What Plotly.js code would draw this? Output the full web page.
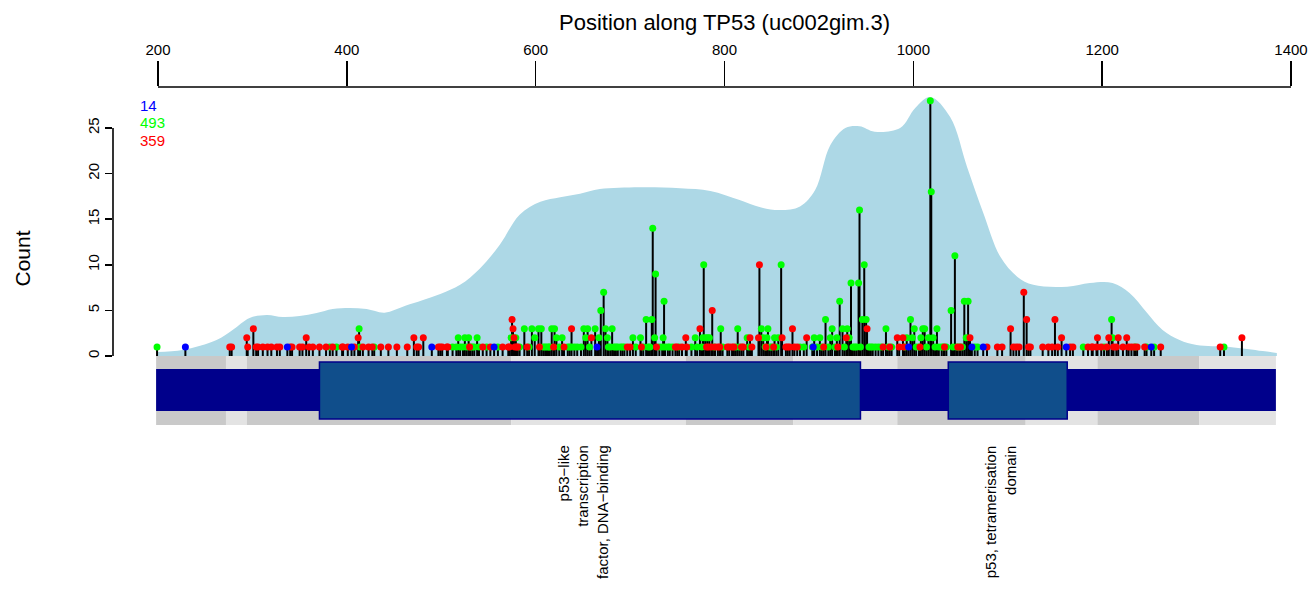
<!DOCTYPE html>
<html><head><meta charset="utf-8">
<script src="https://cdn.plot.ly/plotly-3.0.1.min.js"></script>
<style>html,body{margin:0;padding:0;background:#fff}#chart{width:1314px;height:596px}</style>
</head><body><div id="chart"></div>
<script>
// ---------- data ----------
const greenPos = [199,382,389,413,414,429,512,516,518,520,523,525,527,529,531,533,535,538,540,548,560,574,579,583,588,593,596,599,603,606,608,610,612,614,615,617,620,622,625,628,634,636,638,641,644,648,651,653,655,657,663,667,669,672,674,676,677,679,681,683,685,687,690,692,694,703,706,711,714,717,719,721,723,724,726,727,731,734,735,736,737,740,742,745,752,765,769,771,776,777,778,780,782,784,789,796,798,812,814,816,824,826,839,841,843,845,846,848,850,853,855,857,860,880,884,893,895,898,901,903,907,910,912,914,917,919,922,925,927,930,932,934,936,938,940,942,943,944,946,948,950,953,955,957,960,963,966,971,973,977,991,993,997,999,1001,1003,1006,1008,1010,1012,1014,1016,1018,1019,1021,1023,1025,1027,1030,1032,1035,1040,1042,1044,1046,1049,1052,1054,1056,1058,1065,1068,1180,1202,1210,1211,1235,1247,1255,1329];
const greenCnt = [1,1,1,3,1,1,1,1,2,1,1,2,1,2,1,1,1,2,1,1,1,2,2,1,3,1,3,2,3,3,1,1,1,1,1,3,3,2,1,2,1,1,1,1,1,1,3,2,3,1,3,2,5,7,3,2,1,1,3,1,1,1,1,1,1,2,1,2,1,4,1,1,4,14,2,9,1,1,2,6,1,1,1,1,1,1,2,1,1,2,10,2,2,2,1,3,1,1,3,1,2,1,3,2,1,2,3,1,1,2,1,2,10,1,1,1,2,1,2,1,4,1,2,3,1,2,6,3,1,3,2,8,1,1,1,8,16,1,4,10,4,1,1,1,1,1,1,3,1,1,1,2,4,2,3,1,1,2,3,3,1,2,28,18,2,1,3,1,1,1,1,5,1,11,1,1,1,6,2,6,1,1,1,1,4,2,1,1,1,1];
const redPos = [276,278,294,295,301,304,306,311,316,320,326,329,340,342,350,353,357,360,364,371,378,385,395,396,401,408,412,417,423,427,436,444,453,464,471,474,476,481,497,499,501,506,507,530,544,552,565,571,572,575,576,577,578,580,581,591,604,619,630,638,659,697,700,712,728,748,750,755,759,760,774,781,783,786,787,790,793,795,803,805,808,810,818,820,827,829,836,837,844,852,861,865,867,869,872,874,877,887,905,920,929,951,968,975,983,985,989,990,1007,1033,1047,1050,1060,1078,1089,1094,1103,1106,1109,1112,1117,1120,1122,1124,1137,1143,1147,1150,1153,1157,1166,1169,1185,1189,1190,1194,1195,1199,1205,1207,1212,1215,1217,1222,1226,1228,1231,1234,1237,1245,1262,1325,1348];
const redCnt = [1,1,2,1,3,1,1,1,1,1,1,1,1,1,1,1,2,1,1,1,1,1,1,1,1,1,2,1,1,1,1,1,1,1,2,1,1,2,1,1,1,1,1,1,1,1,1,1,1,4,3,2,1,1,1,1,1,1,1,3,2,1,1,1,1,1,1,1,2,1,3,1,1,1,5,1,1,1,1,1,1,1,1,1,2,1,2,10,1,1,2,1,1,1,3,1,1,2,1,1,2,3,1,1,2,1,2,1,1,1,1,1,2,1,1,1,3,1,1,1,7,4,1,1,1,1,1,4,1,2,1,1,1,1,1,1,2,1,1,2,1,1,2,1,2,1,1,1,1,1,1,1,2];
const bluePos = [229,337,405,490,556,665,894,995,1062,1074,1162,1252];
const blueCnt = [1,1,1,1,1,1,1,1,1,1,1,1];
const legendTotals = [14, 493, 359];

// density outline (position, height in count units)
const densX = [199,226,262,279,297,315,332,350,368,385,403,421,440,462,480,499,520,541,562,583,605,626,647,668,710,753,785,816,838,859,880,896,912,928,943,959,986,1002,1018,1039,1057,1074,1092,1110,1127,1163,1187,1211,1229,1247,1264,1282,1300,1335,1370,1385];
const densY = [0.44,0.66,1.75,2.85,4.17,4.5,4.28,4.39,4.71,5.15,5.26,5.15,4.75,5.5,6.1,6.8,7.8,9.6,12.2,15.5,16.9,17.4,17.8,18.3,18.5,18.4,18.1,17.1,16.3,16.0,16.4,18.2,23.1,25.0,25.2,24.6,25.0,27.2,28.4,26.2,20.7,15.7,10.9,8.7,7.8,7.6,8.0,8.0,6.9,4.8,2.85,1.75,1.2,1.0,0.55,0.33];

// protein / exon structure
const proteinStart = 198, proteinEnd = 1384;
const exonBounds = [198,272,294,574,759,873,983,1119,1195,1303,1384];
const domainStart = [371, 1037];
const domainEnd = [944, 1163];
const domainLabels = ['p53\u2212like<br>transcription<br>factor, DNA\u2212binding', 'p53, tetramerisation<br>domain'];

const xTicks = [200,400,600,800,1000,1200,1400];
const yTicks = [0,5,10,15,20,25];

// ---------- build ----------
const FONT = 'Liberation Sans, Arial, Helvetica, sans-serif';
const stemMax = {};
[[greenPos,greenCnt],[redPos,redCnt],[bluePos,blueCnt]].forEach(([p,c])=>{
  p.forEach((v,i)=>{ stemMax[v] = Math.max(stemMax[v]||0, c[i]); });
});
const stemX = [], stemY = [];
Object.keys(stemMax).map(Number).sort((a,b)=>a-b).forEach(p=>{
  stemX.push(p,p,null); stemY.push(0,stemMax[p],null);
});

const traces = [
  {x:densX, y:densY, type:'scatter', mode:'lines', fill:'tozeroy', fillcolor:'#ADD8E6',
   line:{width:0, shape:'spline', smoothing:1, color:'#ADD8E6'}, hoverinfo:'skip', showlegend:false},
  {x:stemX, y:stemY, type:'scatter', mode:'lines', line:{color:'#000000', width:2},
   hoverinfo:'skip', showlegend:false},
  {x:greenPos, y:greenCnt, type:'scatter', mode:'markers', marker:{color:'#00FF00', size:7, line:{width:0}}, showlegend:false},
  {x:redPos, y:redCnt, type:'scatter', mode:'markers', marker:{color:'#FF0000', size:7, line:{width:0}}, showlegend:false},
  {x:bluePos, y:blueCnt, type:'scatter', mode:'markers', marker:{color:'#0000FF', size:7, line:{width:0}}, showlegend:false}
];

const shapes = [];
for (let i=0;i<exonBounds.length-1;i++){
  shapes.push({type:'rect', layer:'below', xref:'x', yref:'y', x0:exonBounds[i], x1:exonBounds[i+1], y0:-7.57, y1:0.11,
    fillcolor: i%2===0 ? '#C9C9C9' : '#E3E3E3', line:{width:0}});
}
shapes.push({type:'rect', layer:'below', xref:'x', yref:'y', x0:proteinStart, x1:proteinEnd, y0:-6.03, y1:-1.43,
  fillcolor:'#00008B', line:{width:0}});
domainStart.forEach((s,i)=>{
  shapes.push({type:'rect', layer:'below', xref:'x', yref:'y', x0:s, x1:domainEnd[i], y0:-6.91, y1:-0.66,
    fillcolor:'#104E8B', line:{color:'#00008B', width:1.5}});
});
// R-style axis lines limited to tick range
shapes.push({type:'line', xref:'x', yref:'paper', x0:xTicks[0], x1:xTicks[xTicks.length-1], y0:1, y1:1, line:{color:'#000', width:1.6}});
shapes.push({type:'line', xref:'paper', yref:'y', x0:0, x1:0, y0:yTicks[0], y1:yTicks[yTicks.length-1], line:{color:'#000', width:1.6}});

const legendColors = ['#0000FF','#00FF00','#FF0000'];
const annotations = legendTotals.map((t,i)=>({
  xref:'x', yref:'y', x:179, y:27.52 - i*1.97, text:String(t), showarrow:false,
  xanchor:'left', yanchor:'middle', font:{family:FONT, size:15, color:legendColors[i]}
}));
domainLabels.forEach((lab,i)=>{
  annotations.push({xref:'x', yref:'paper', x:(domainStart[i]+domainEnd[i])/2, xshift:-7, y:-0.038,
    text:lab, showarrow:false, textangle:-90, align:'right', xanchor:'center', yanchor:'top',
    font:{family:FONT, size:15, color:'#000'}});
});
annotations.push({xref:'x', yref:'paper', x:(xTicks[0]+xTicks[xTicks.length-1])/2, y:1, yshift:65,
  text:'Position along TP53 (uc002gim.3)', showarrow:false, xanchor:'center', yanchor:'middle',
  font:{family:FONT, size:22, color:'#000'}});

const layout = {
  width:1314, height:596,
  margin:{l:113, r:14, t:87, b:166, pad:0},
  paper_bgcolor:'#fff', plot_bgcolor:'#fff',
  font:{family:FONT, size:15, color:'#000'},
  showlegend:false,
  xaxis:{side:'top', range:[152.34,1409.53], tickvals:xTicks, ticktext:xTicks.map(String),
    ticks:'outside', ticklen:25, tickwidth:1.6, tickcolor:'#000', showline:false, showgrid:false, zeroline:false,
    tickfont:{family:FONT, size:15, color:'#000'}, fixedrange:true},
  yaxis:{range:[-8.114,29.496], tickvals:yTicks, ticktext:yTicks.map(String), tickangle:-90,
    ticks:'outside', ticklen:7, tickwidth:1.6, tickcolor:'#000', showline:false, showgrid:false, zeroline:false,
    tickfont:{family:FONT, size:15, color:'#000'},
    title:{text:'Count', font:{family:FONT, size:21, color:'#000'}, standoff:48}, automargin:false, fixedrange:true},
  shapes:shapes, annotations:annotations
};
Plotly.newPlot('chart', traces, layout, {displayModeBar:false, staticPlot:true});
</script>
</body></html>
